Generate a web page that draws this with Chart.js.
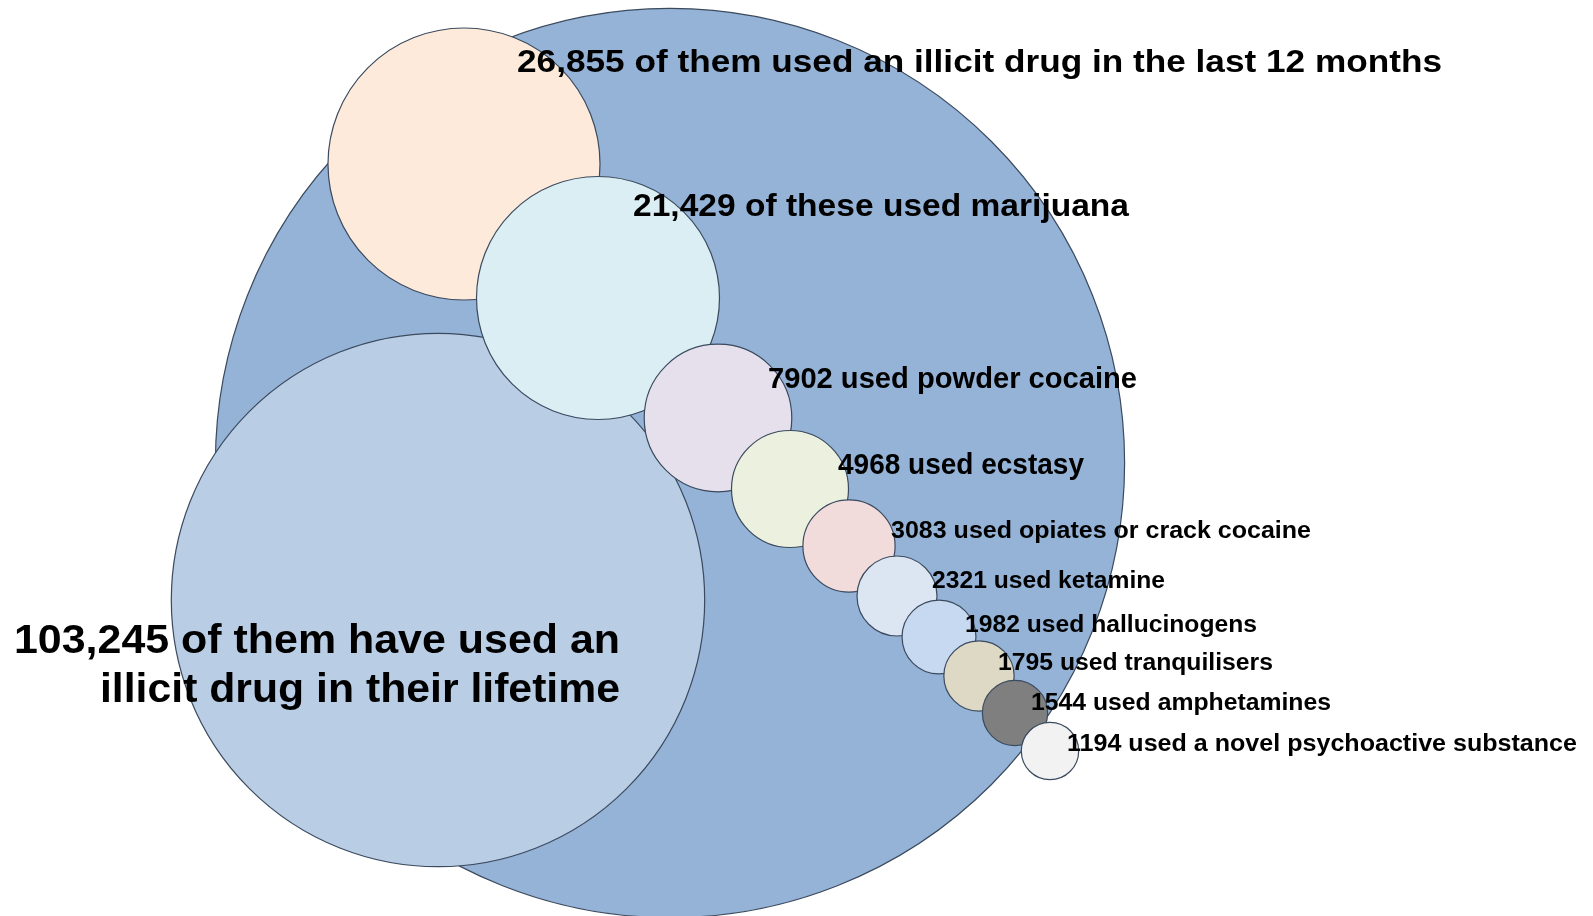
<!DOCTYPE html>
<html>
<head>
<meta charset="utf-8">
<script src="https://cdn.jsdelivr.net/npm/chart.js@4/dist/chart.umd.min.js"></script>
<style>
  html, body { margin: 0; padding: 0; background: #fff; }
  #wrap { width: 1593px; height: 916px; position: relative; }
</style>
</head>
<body>
<div id="wrap"><canvas id="myChart"></canvas></div>
<script>
// drug use counts (bubble area ~ count)
var groups = ['Surveyed', 'Lifetime', 'Last 12 months', 'Marijuana', 'Powder cocaine', 'Ecstasy',
              'Opiates or crack cocaine', 'Ketamine', 'Hallucinogens', 'Tranquilisers',
              'Amphetamines', 'Novel psychoactive substance'];
var counts = [300000, 103245, 26855, 21429, 7902, 4968, 3083, 2321, 1982, 1795, 1544, 1194];
var labelTexts = [
  '',
  ['103,245 of them have used an', 'illicit drug in their lifetime'],
  '26,855 of them used an illicit drug in the last 12 months',
  '21,429 of these used marijuana',
  '7902 used powder cocaine',
  '4968 used ecstasy',
  '3083 used opiates or crack cocaine',
  '2321 used ketamine',
  '1982 used hallucinogens',
  '1795 used tranquilisers',
  '1544 used amphetamines',
  '1194 used a novel psychoactive substance'
];
// where each bubble sits on the (hidden) axes
var posX = [670, 438, 464, 598, 718, 790, 849, 897, 939, 979, 1015, 1050];
var posY = [463, 600, 164, 298, 418, 489, 546, 596, 637, 676, 713, 751];

var colors = ['#95B3D7', '#B9CDE5', '#FDEADA', '#DBEEF4', '#E6E0EC', '#EBF1DE',
              '#F2DCDB', '#DCE6F2', '#C6D9F1', '#DDD9C4', '#7F7F7F', '#F2F2F2'];

var radiusScale = 0.83; // px per sqrt(count)

// label layout: [x, y, fontSize, width, align]
var labelLayout = [
  null,
  [[620, 642, 41, 606, 'right'], [620, 691, 41, 520, 'right']],
  [517, 63, 32, 925, 'left'],
  [633, 207, 31, 496, 'left'],
  [768, 380, 30, 369, 'left'],
  [838, 466, 30, 246, 'left'],
  [891, 532, 23, 420, 'left'],
  [932, 582, 23, 233, 'left'],
  [965, 626, 23, 292, 'left'],
  [998, 664, 23, 275, 'left'],
  [1031, 704, 23, 300, 'left'],
  [1067, 745, 23, 510, 'left']
];

function drawLabel(ctx, chart, text, lay) {
  var x = chart.scales.x.getPixelForValue(lay[0]);
  var y = chart.scales.y.getPixelForValue(lay[1]);
  ctx.save();
  ctx.font = 'bold ' + lay[2] + 'px "Liberation Sans", Arial, sans-serif';
  ctx.fillStyle = '#000';
  ctx.textBaseline = 'middle';
  var w = ctx.measureText(text).width;
  var sx = lay[3] / w;
  ctx.translate(x, y);
  ctx.scale(sx, 1);
  ctx.textAlign = lay[4];
  ctx.fillText(text, 0, 0);
  ctx.restore();
}

var labelPlugin = {
  id: 'bubbleLabels',
  afterDatasetsDraw: function(chart) {
    var ctx = chart.ctx;
    for (var i = 0; i < labelTexts.length; i++) {
      var t = labelTexts[i], lay = labelLayout[i];
      if (!lay) continue;
      if (Array.isArray(t)) {
        for (var j = 0; j < t.length; j++) drawLabel(ctx, chart, t[j], lay[j]);
      } else {
        drawLabel(ctx, chart, t, lay);
      }
    }
  }
};

var points = counts.map(function(v, i) {
  return { x: posX[i], y: posY[i], r: radiusScale * Math.sqrt(v) };
});

var ctx = document.getElementById('myChart').getContext('2d');
var chart = new Chart(ctx, {
  type: 'bubble',
  data: {
    labels: groups,
    datasets: [{
      data: points,
      backgroundColor: colors,
      borderColor: '#3B4A5E',
      borderWidth: 1.2,
      hoverRadius: 0,
      clip: false
    }]
  },
  options: {
    responsive: true,
    maintainAspectRatio: false,
    animation: false,
    events: [],
    layout: { padding: 0, autoPadding: false },
    plugins: { legend: { display: false }, tooltip: { enabled: false } },
    scales: {
      x: { type: 'linear', min: 0, max: 1593, display: false },
      y: { type: 'linear', min: 0, max: 916, reverse: true, display: false }
    }
  },
  plugins: [labelPlugin]
});
</script>
</body>
</html>
